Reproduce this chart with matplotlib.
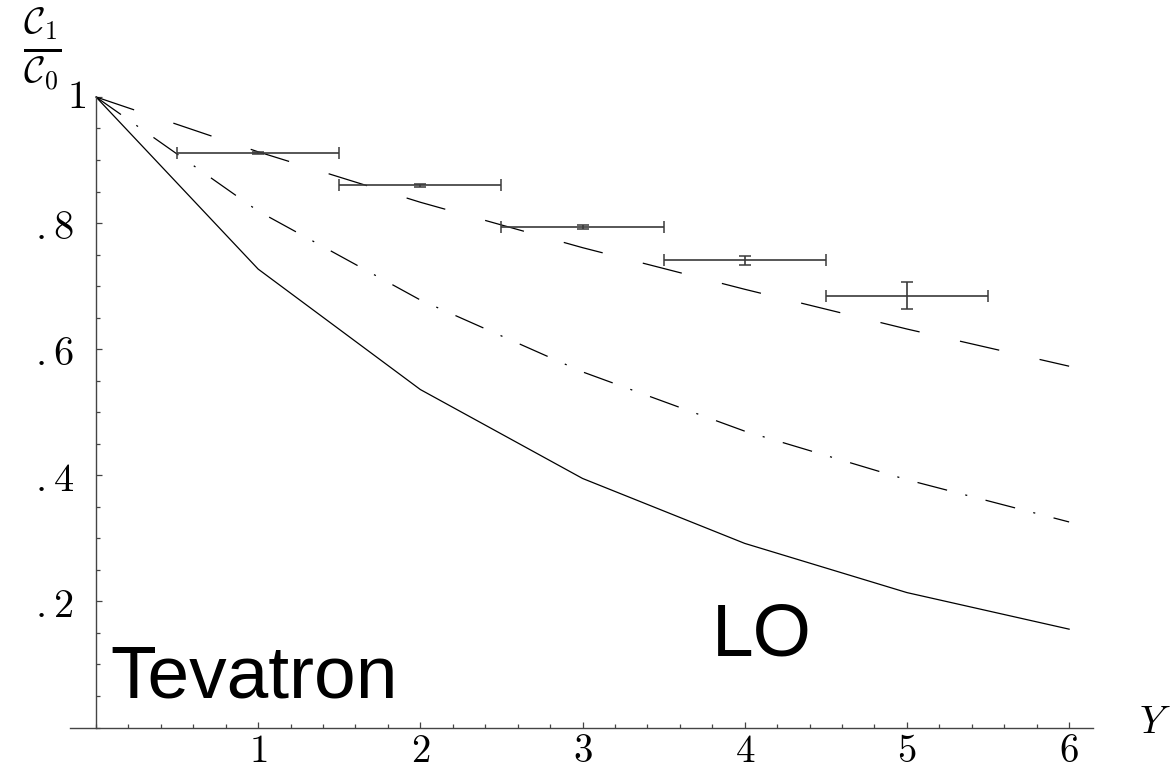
"""
Ratio C1/C0 against rapidity interval Y at the Tevatron, LO curves with data.
"""

import matplotlib
matplotlib.use('Agg')
import matplotlib.pyplot as plt
from matplotlib.ticker import MultipleLocator

# curve values read at integer Y
y_grid = [0, 1, 2, 3, 4, 5, 6]
lo_solid = [1.0, 0.727, 0.536, 0.395, 0.292, 0.214, 0.156]
lo_dashdot = [1.0, 0.819, 0.678, 0.564, 0.470, 0.393, 0.326]
lo_dashed = [1.0, 0.913, 0.833, 0.761, 0.695, 0.632, 0.573]

# data points with bin half-width and errors
data_y = [1, 2, 3, 4, 5]
data_ratio = [0.911, 0.860, 0.794, 0.741, 0.685]
data_xerr = [0.5, 0.5, 0.5, 0.5, 0.5]
data_yerr = [0.0015, 0.002, 0.0035, 0.0075, 0.0217]

x_ticks = [1, 2, 3, 4, 5, 6]
x_labels = ['$1$', '$2$', '$3$', '$4$', '$5$', '$6$']
y_ticks = [0.2, 0.4, 0.6, 0.8, 1.0]
y_labels = ['$.2$', '$.4$', '$.6$', '$.8$', '']

plt.rcParams['mathtext.fontset'] = 'cm'
plt.rcParams['lines.scale_dashes'] = False


def plot_data():
    fig = plt.figure(figsize=(11.75, 7.72), dpi=100)
    ax = fig.add_axes([0.0596, 0.0576, 0.871, 0.8168])

    axis_color = '#444444'
    ax.plot(y_grid, lo_solid, color='black', lw=0.9, clip_on=False)
    ax.plot(y_grid, lo_dashdot, color='black', lw=0.9, clip_on=False,
            dashes=(22, 13.5, 1.5, 13.6), dash_capstyle='butt')
    ax.plot(y_grid, lo_dashed, color='black', lw=0.9, clip_on=False,
            dashes=(29, 29.8), dash_capstyle='butt')

    ax.errorbar(data_y, data_ratio, xerr=data_xerr, yerr=data_yerr, fmt='none',
                ecolor='#3a3a3a', elinewidth=1.2, capsize=4.3, capthick=1.1)

    ax.set_xlim(-0.16, 6.15)
    ax.set_ylim(0, 1)

    for side in ['top', 'right']:
        ax.spines[side].set_visible(False)
    ax.spines['left'].set_position(('data', 0))
    for side in ['left', 'bottom']:
        ax.spines[side].set_color(axis_color)
        ax.spines[side].set_linewidth(1.0)

    ax.set_xticks(x_ticks)
    ax.set_xticklabels(x_labels)
    ax.set_yticks(y_ticks)
    ax.set_yticklabels(y_labels)
    ax.xaxis.set_minor_locator(MultipleLocator(0.2))
    ax.yaxis.set_minor_locator(MultipleLocator(0.05))
    ax.tick_params(which='both', direction='in', color=axis_color, width=0.9,
                   labelsize=29)
    ax.tick_params(which='major', length=4.3)
    ax.tick_params(which='minor', length=2.9)
    ax.tick_params(axis='x', pad=3, labelsize=28)
    ax.tick_params(axis='y', pad=16)

    # the "1" label sits closer to the axis than the others
    ax.annotate('$1$', xy=(0, 1), xytext=(-7, 0), textcoords='offset points',
                ha='right', va='center', fontsize=29)

    fig.text(42 / 1175, 1 - 49 / 772, r'$\frac{\mathcal{C}_1}{\mathcal{C}_0}$',
             ha='center', va='center', fontsize=38)
    fig.text(1171 / 1175, 1 - 722 / 772, '$Y$', ha='right', va='center',
             fontsize=28)

    ax.text(0.086, 0.047, 'Tevatron', family='Liberation Sans', fontsize=54,
            va='baseline', ha='left')
    ax.text(3.80, 0.115, 'LO', family='Liberation Sans', fontsize=54,
            va='baseline', ha='left')

    fig.savefig('out.png', dpi=100)


def main():
    plot_data()


if (__name__ == '__main__'):
    main()
